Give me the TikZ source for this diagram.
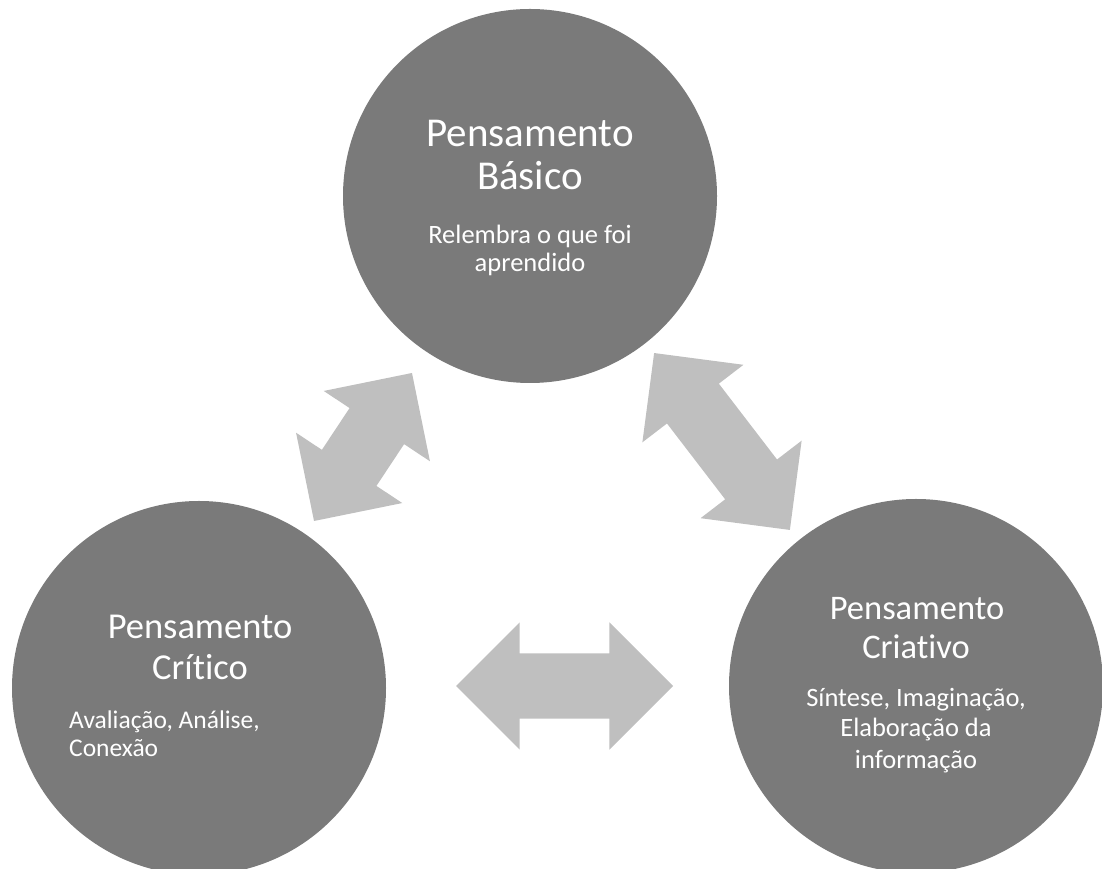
\documentclass[tikz,border=0pt]{standalone}
\usepackage{fontspec}
\setmainfont{Carlito}[Ligatures=NoCommon]
\usetikzlibrary{shapes}
\definecolor{bubblegray}{HTML}{7A7A7A}
\definecolor{linkgray}{HTML}{BFBFBF}
\tikzstyle{bubble}=[circle,fill=bubblegray,inner sep=0pt,minimum size=374pt]
\tikzstyle{link}=[double arrow,fill=linkgray,inner xsep=0pt,inner ysep=32.5pt,double arrow head extend=31pt]
\tikzstyle{txt}=[text=white,inner sep=0pt,anchor=base]
\newcommand{\fs}[1]{\fontsize{#1}{#1}\selectfont}

\begin{document}
\begin{tikzpicture}[x=1pt,y=1pt]
  \clip (0,0) rectangle (1102,869);
  \node[bubble] (basico) at (530,673) {};
  \node[bubble] (critico) at (199,181) {};
  \node[bubble] (criativo) at (916,183) {};
  % arrows between the circles
  \node[link, minimum height=177.5pt, rotate=56.5] (bc) at (363,422) {};
  \node[link, minimum height=223pt, rotate=-52.5] (bk) at (722,427.5) {};
  \node[link, minimum height=217pt] (ck) at (564.5,183) {};
  % texts
  \node[txt] (b1) at (530,722.3) {\fs{41}Pensamento};
  \node[txt] (b2) at (530,679) {\fs{41}Básico};
  \node[txt] (b3) at (530,625) {\fs{26.5}Relembra o que foi};
  \node[txt] (b4) at (530,597) {\fs{26.5}aprendido};
  \node[txt] (c1) at (200,230.7) {\fs{36.5}Pensamento};
  \node[txt] (c2) at (200,189) {\fs{36.5}Crítico};
  \node[txt, anchor=base west] (c3) at (69,140.7) {\fs{25.5}Avaliação, Análise,};
  \node[txt, anchor=base west] (c4) at (69,112.3) {\fs{25.5}Conexão};
  \node[txt] (k1) at (917,249.7) {\fs{34.5}Pensamento};
  \node[txt] (k2) at (916,210.7) {\fs{34.5}Criativo};
  \node[txt] (k3) at (916,162.3) {\fs{26.5}Síntese, Imaginação,};
  \node[txt] (k4) at (916,132.3) {\fs{26.5}Elaboração da};
  \node[txt] (k5) at (916,100) {\fs{26.5}informação};
\end{tikzpicture}
\end{document}
